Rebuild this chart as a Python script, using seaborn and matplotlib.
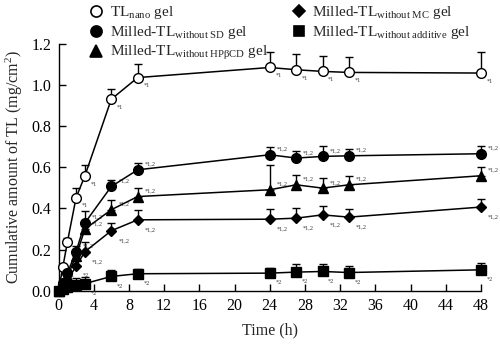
import matplotlib
matplotlib.use("Agg")
import matplotlib.pyplot as plt
import seaborn as sns
import numpy as np
import pandas as pd
from matplotlib.lines import Line2D

# ---- data ----
time = [0, 0.5, 1, 2, 3, 6, 9, 24, 27, 30, 33, 48]

nano = [0, 0.117, 0.235, 0.453, 0.559, 0.931, 1.036, 1.085, 1.074, 1.066, 1.061, 1.058]
nano_err = [0, 0.01, 0.02, 0.046, 0.053, 0.05, 0.066, 0.073, 0.076, 0.076, 0.073, 0.10]

sd = [0, 0.04, 0.086, 0.19, 0.33, 0.507, 0.588, 0.661, 0.645, 0.653, 0.656, 0.666]
sd_err = [0, 0.01, 0.02, 0.03, 0.058, 0.03, 0.032, 0.04, 0.035, 0.05, 0.032, 0.04]

hp = [0, 0.03, 0.07, 0.17, 0.30, 0.394, 0.458, 0.491, 0.515, 0.499, 0.515, 0.559]
hp_err = [0, 0.01, 0.02, 0.03, 0.04, 0.048, 0.04, 0.12, 0.05, 0.05, 0.045, 0.045]

mc = [0, 0.02, 0.05, 0.12, 0.19, 0.292, 0.345, 0.348, 0.353, 0.369, 0.358, 0.407]
mc_err = [0, 0.01, 0.015, 0.03, 0.045, 0.037, 0.049, 0.049, 0.049, 0.041, 0.039, 0.039]

add = [0, 0.01, 0.02, 0.03, 0.035, 0.07, 0.083, 0.086, 0.091, 0.094, 0.089, 0.102]
add_err = [0, 0.005, 0.01, 0.03, 0.03, 0.032, 0.024, 0.027, 0.039, 0.037, 0.034, 0.035]

nano_sig = ['', '*1', '*1', '*1', '*1', '*1', '*1', '*1', '*1', '*1', '*1', '*1']
sd_sig = ['', '', '', '*1,2', '*1,2', '*1,2', '*1,2', '*1,2', '*1,2', '*1,2', '*1,2', '*1,2']
hp_sig = ['', '', '', '*2', '*1,2', '*1,2', '*1,2', '*1,2', '*1,2', '*1,2', '*1,2', '*1,2']
mc_sig = ['', '', '', '*2', '*1,2', '*1,2', '*1,2', '*1,2', '*1,2', '*1,2', '*1,2', '*1,2']
add_sig = ['', '', '', '', '*2', '*2', '*2', '*2', '*2', '*2', '*2', '*2']

labels = [r'TL$_{\mathrm{nano}}$ gel',
          r'Milled-TL$_{\mathrm{without\ SD}}$ gel',
          r'Milled-TL$_{\mathrm{without\ HP\beta CD}}$ gel',
          r'Milled-TL$_{\mathrm{without\ MC}}$ gel',
          r'Milled-TL$_{\mathrm{without\ additive}}$ gel']

x_ticks = [0, 4, 8, 12, 16, 20, 24, 28, 32, 36, 40, 44, 48]
y_ticks = [0.0, 0.2, 0.4, 0.6, 0.8, 1.0, 1.2]

# ---- style ----
sns.set_style("ticks")
plt.rcParams['font.family'] = ['Liberation Serif', 'DejaVu Serif']
plt.rcParams['mathtext.fontset'] = 'custom'
plt.rcParams['mathtext.rm'] = 'Liberation Serif'
plt.rcParams['mathtext.it'] = 'Liberation Serif:italic'

fig = plt.figure(figsize=(5.0, 3.45), dpi=100)
ax = fig.add_axes([0.117, 0.157, 0.845, 0.716])

series = [
    (nano, nano_err, nano_sig, 'o', 'white', (4, -6)),
    (sd, sd_err, sd_sig, 'o', 'black', (5, 4)),
    (hp, hp_err, hp_sig, '^', 'black', (5, 4)),
    (mc, mc_err, mc_sig, 'D', 'black', (5, -7)),
    (add, add_err, add_sig, 's', 'black', (4, -7)),
]
msizes = {'o': 7, '^': 7, 'D': 5, 's': 6.5}

for i, (vals, errs, sig, mk, fc, off) in enumerate(series):
    df = pd.DataFrame({'time': time, 'value': vals})
    ax.errorbar(time, vals, yerr=[np.zeros(len(errs)), errs], fmt='none',
                ecolor='black', elinewidth=1.0, capsize=3, capthick=1.0,
                zorder=2 + i * 0.1, clip_on=False)
    sns.lineplot(data=df, x='time', y='value', ax=ax, color='black', lw=1.1,
                 marker=mk, markersize=msizes[mk], markerfacecolor=fc,
                 markeredgecolor='black', markeredgewidth=1.0,
                 zorder=3 + i * 0.1, clip_on=False, legend=False)
    for t, v, s in zip(time, vals, sig):
        if s:
            ax.annotate(s, (t, v), xytext=off, textcoords='offset points',
                        fontsize=4.5, color='#333333', ha='left', va='center')

ax.set_xlim(0, 48)
ax.set_ylim(0, 1.2)
ax.set_xticks(x_ticks)
ax.set_yticks(y_ticks)
ax.set_yticklabels([f'{v:.1f}' for v in y_ticks])
ax.tick_params(direction='in', length=5, width=1, labelsize=11.5, colors='black', pad=5)
for side in ['top', 'right']:
    ax.spines[side].set_visible(False)
for side in ['left', 'bottom']:
    ax.spines[side].set_linewidth(1.0)
    ax.spines[side].set_color('black')
ax.set_xlabel('Time (h)', fontsize=11.5, labelpad=6)
ax.set_ylabel('Cumulative amount of TL (mg/cm$^2$)', fontsize=11.5, labelpad=5)

markers = ['o', 'o', '^', 'D', 's']
fcs = ['white', 'black', 'black', 'black', 'black']
handles = [Line2D([], [], ls='none', marker=m, markersize=msizes[m] + 1,
                  markerfacecolor=f, markeredgecolor='black', markeredgewidth=1.2)
           for m, f in zip(markers, fcs)]
fig.legend(handles, labels, loc='upper left', bbox_to_anchor=(0.165, 1.005),
           ncol=2, frameon=False, fontsize=11, handlelength=1.0,
           handletextpad=0.4, labelspacing=0.2, columnspacing=1.5,
           borderaxespad=0.0)

fig.savefig('out.png', dpi=100)
